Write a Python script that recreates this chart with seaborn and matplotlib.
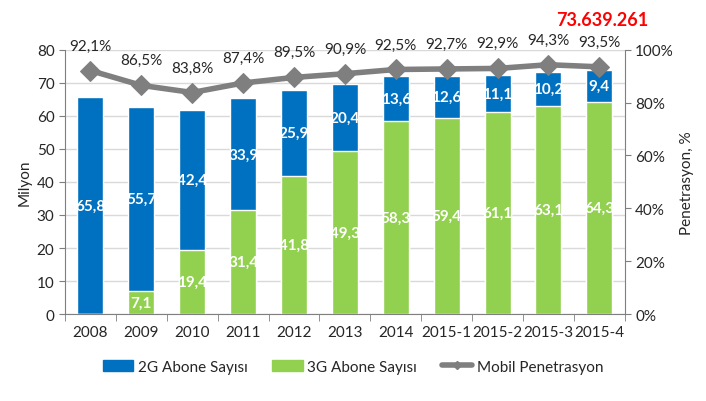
import matplotlib
matplotlib.use("Agg")
import matplotlib.pyplot as plt
from matplotlib.patches import Patch
from matplotlib.lines import Line2D
from matplotlib.ticker import FixedLocator
import seaborn as sns
import pandas as pd

periods = ["2008", "2009", "2010", "2011", "2012", "2013", "2014",
           "2015-1", "2015-2", "2015-3", "2015-4"]
abone_2g = [65.8, 55.7, 42.4, 33.9, 25.9, 20.4, 13.6, 12.6, 11.1, 10.2, 9.4]
abone_3g = [0.0, 7.1, 19.4, 31.4, 41.8, 49.3, 58.3, 59.4, 61.1, 63.1, 64.3]
penetrasyon = [92.1, 86.5, 83.8, 87.4, 89.5, 90.9, 92.5, 92.7, 92.9, 94.3, 93.5]
toplam_etiket = "73.639.261"

blue = "#0070C0"
green = "#92D050"
gray = "#7F7F7F"

sns.set_style("white")
plt.rcParams["font.family"] = ["Lato", "DejaVu Sans"]

df = pd.DataFrame({"donem": periods, "g2": abone_2g, "g3": abone_3g, "pen": penetrasyon})
df["toplam"] = df["g2"] + df["g3"]
df["idx"] = range(len(df))

fig = plt.figure(figsize=(7.06, 4.02), dpi=100)
ax = fig.add_axes([0.092, 0.216, 0.793, 0.658])

sns.barplot(data=df, x="donem", y="toplam", color=blue, width=0.51, saturation=1, ax=ax)
sns.barplot(data=df, x="donem", y="g3", color=green, width=0.51, saturation=1, ax=ax)

# bar labels (white, bold)
for i, row in df.iterrows():
    ax.text(i, row["g3"] + row["g2"] / 2, f"{row['g2']:.1f}".replace(".", ","),
            ha="center", va="center", color="white", fontsize=11, fontweight="bold")
    if row["g3"] > 0:
        ax.text(i, row["g3"] / 2, f"{row['g3']:.1f}".replace(".", ","),
                ha="center", va="center", color="white", fontsize=11, fontweight="bold")

ax.set_ylim(0, 80)
ax.set_xlim(-0.5, len(df) - 0.5)
ax.set_yticks(range(0, 81, 10))
ax.yaxis.grid(True, color="#D9D9D9", linewidth=1)
ax.set_axisbelow(True)
ax.set_xlabel("")
ax.set_ylabel("Milyon", fontsize=11)
ax.tick_params(axis="y", labelsize=11, length=4, color=gray, left=True)
ax.tick_params(axis="x", which="major", labelsize=11, length=0, pad=8)
ax.xaxis.set_minor_locator(FixedLocator([i - 0.5 for i in range(len(df) + 1)]))
ax.tick_params(axis="x", which="minor", length=5, color=gray, bottom=True)
for s in ["left", "bottom"]:
    ax.spines[s].set_color(gray)
ax.spines["top"].set_visible(False)
ax.spines["right"].set_visible(False)

ax2 = ax.twinx()
sns.lineplot(data=df, x="idx", y="pen", color=gray, linewidth=4, marker="D",
             markersize=10, markeredgecolor=gray, ax=ax2)
ax2.set_ylim(0, 100)
ax2.set_yticks(range(0, 101, 20))
ax2.set_yticklabels([f"{v}%" for v in range(0, 101, 20)])
ax2.set_ylabel("Penetrasyon, %", fontsize=11)
ax2.tick_params(axis="y", labelsize=11, length=4, color=gray, right=True)
ax2.spines["right"].set_color(gray)
for s in ["top", "left", "bottom"]:
    ax2.spines[s].set_visible(False)
ax2.set_xlabel("")

for i, row in df.iterrows():
    ax2.annotate(f"{row['pen']:.1f}%".replace(".", ","), (i, row["pen"]),
                 xytext=(0, 13), textcoords="offset points",
                 ha="center", va="bottom", fontsize=11)

ax2.annotate(toplam_etiket, (len(df) - 1, penetrasyon[-1]), xytext=(2, 28),
             textcoords="offset points", ha="center", va="bottom",
             color="red", fontsize=13, fontweight="bold")

handles = [Patch(color=blue, label="2G Abone Sayısı"),
           Patch(color=green, label="3G Abone Sayısı"),
           Line2D([0], [0], color=gray, linewidth=4, marker="D", markersize=4,
                  label="Mobil Penetrasyon")]
fig.legend(handles=handles, loc="center", bbox_to_anchor=(0.5, 0.085), ncol=3,
           frameon=False, fontsize=11, handlelength=2.0, columnspacing=1.6,
           handletextpad=0.3)

fig.savefig("out.png", dpi=100)
